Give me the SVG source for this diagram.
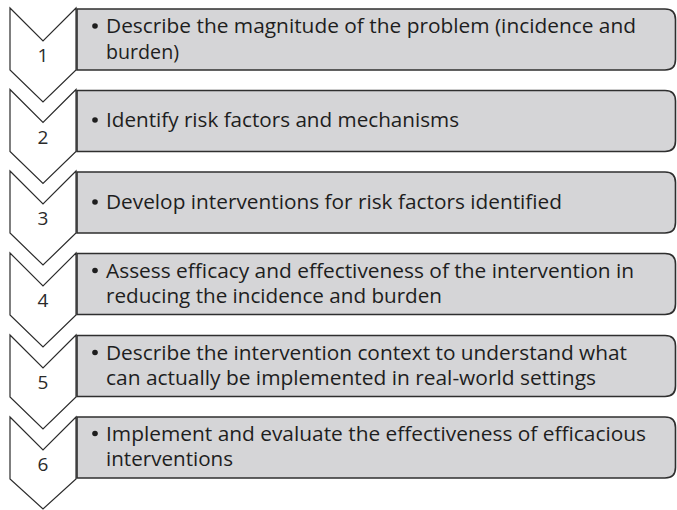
<svg xmlns="http://www.w3.org/2000/svg" width="677" height="510" viewBox="0 0 677 510">
<style>
.chev{fill:#ffffff;stroke:#2b2b2b;stroke-width:1.2;stroke-linejoin:miter}
.box{fill:#d5d5d7;stroke:#2f2f2f;stroke-width:1.6}
.num{font-family:"Open Sans","Liberation Sans",sans-serif;font-size:19px;fill:#2a2a2a;text-anchor:middle}
.txt{font-family:"Open Sans","Liberation Sans",sans-serif;font-size:20px;fill:#1e1e1e}
.dot{fill:#1e1e1e}
</style>
<rect width="677" height="510" fill="#ffffff"/>
<g id="step1">
<path class="chev" d="M10,8 L43,41 L76,8 L76,70 L43,102 L10,70 Z"/>
<text class="num" x="43" y="62">1</text>
<path class="box" d="M77,9 H665 Q675.5,9 675.5,19.5 V59.5 Q675.5,70 665,70 H77 Z"/>
<circle class="dot" cx="95" cy="26" r="2.8"/>
<text class="txt" x="106" y="33" textLength="530" lengthAdjust="spacingAndGlyphs">Describe the magnitude of the problem (incidence and</text>
<text class="txt" x="106" y="59" textLength="73" lengthAdjust="spacingAndGlyphs">burden)</text>
</g>
<g id="step2">
<path class="chev" d="M10,89.5 L43,122.5 L76,89.5 L76,151.5 L43,183.5 L10,151.5 Z"/>
<text class="num" x="43" y="143.5">2</text>
<path class="box" d="M77,90.5 H665 Q675.5,90.5 675.5,101 V141 Q675.5,151.5 665,151.5 H77 Z"/>
<circle class="dot" cx="95" cy="120" r="2.8"/>
<text class="txt" x="106" y="127" textLength="353" lengthAdjust="spacingAndGlyphs">Identify risk factors and mechanisms</text>
</g>
<g id="step3">
<path class="chev" d="M10,171 L43,204 L76,171 L76,233 L43,265 L10,233 Z"/>
<text class="num" x="43" y="225">3</text>
<path class="box" d="M77,172 H665 Q675.5,172 675.5,182.5 V222.5 Q675.5,233 665,233 H77 Z"/>
<circle class="dot" cx="95" cy="202" r="2.8"/>
<text class="txt" x="106" y="209" textLength="456" lengthAdjust="spacingAndGlyphs">Develop interventions for risk factors identified</text>
</g>
<g id="step4">
<path class="chev" d="M10,253 L43,286 L76,253 L76,315 L43,347 L10,315 Z"/>
<text class="num" x="43" y="307">4</text>
<path class="box" d="M77,253.5 H665 Q675.5,253.5 675.5,264 V304 Q675.5,314.5 665,314.5 H77 Z"/>
<circle class="dot" cx="95" cy="270.5" r="2.8"/>
<text class="txt" x="106" y="277.5" textLength="528" lengthAdjust="spacingAndGlyphs">Assess efficacy and effectiveness of the intervention in</text>
<text class="txt" x="106" y="303" textLength="336" lengthAdjust="spacingAndGlyphs">reducing the incidence and burden</text>
</g>
<g id="step5">
<path class="chev" d="M10,335 L43,368 L76,335 L76,397 L43,429 L10,397 Z"/>
<text class="num" x="43" y="389">5</text>
<path class="box" d="M77,335.5 H665 Q675.5,335.5 675.5,346 V386 Q675.5,396.5 665,396.5 H77 Z"/>
<circle class="dot" cx="95" cy="352.5" r="2.8"/>
<text class="txt" x="106" y="359.5" textLength="521" lengthAdjust="spacingAndGlyphs">Describe the intervention context to understand what</text>
<text class="txt" x="106" y="385" textLength="490" lengthAdjust="spacingAndGlyphs">can actually be implemented in real-world settings</text>
</g>
<g id="step6">
<path class="chev" d="M10,417 L43,450 L76,417 L76,479 L43,509 L10,479 Z"/>
<text class="num" x="43" y="471">6</text>
<path class="box" d="M77,417 H665 Q675.5,417 675.5,427.5 V467.5 Q675.5,478 665,478 H77 Z"/>
<circle class="dot" cx="95" cy="433.5" r="2.8"/>
<text class="txt" x="106" y="440.5" textLength="540" lengthAdjust="spacingAndGlyphs">Implement and evaluate the effectiveness of efficacious</text>
<text class="txt" x="106" y="466" textLength="127" lengthAdjust="spacingAndGlyphs">interventions</text>
</g>
<g id="connectors"></g>
</svg>
